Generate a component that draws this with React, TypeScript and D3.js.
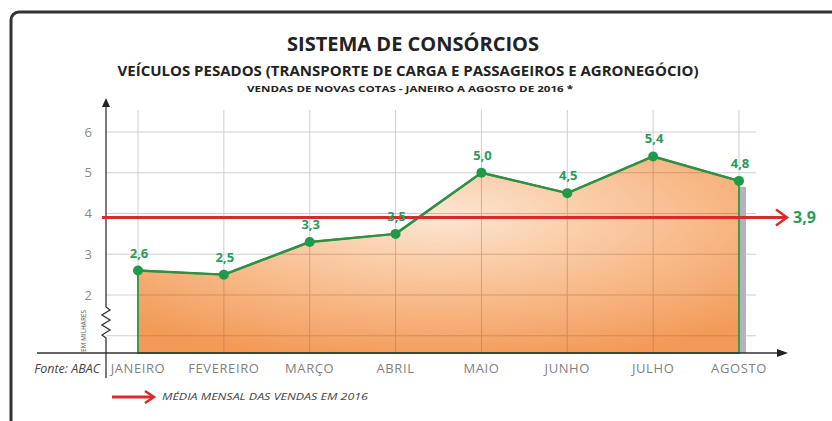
import React from 'react';
import * as d3 from 'd3';

// vendas mensais (em milhares) - consórcios de veículos pesados 2016
const meses = ['JANEIRO', 'FEVEREIRO', 'MARÇO', 'ABRIL', 'MAIO', 'JUNHO', 'JULHO', 'AGOSTO'];
const vendas = [2.6, 2.5, 3.3, 3.5, 5.0, 4.5, 5.4, 4.8];
const media = 3.9;
const yTicks = [2, 3, 4, 5, 6];
const gridExtra = [1];

const fmt = (v: number) => d3.format('.1f')(v).replace('.', ',');

export default function App() {
  const W = 832, H = 421;
  const base = 353; // linha do eixo x

  const x = d3.scalePoint<string>().domain(meses).range([138, 739]);
  const y = d3.scaleLinear().domain([2, 6]).range([295, 132]);

  const dados = meses.map((m, i) => ({ m, v: vendas[i] }));

  const area = d3.area<{ m: string; v: number }>()
    .x(d => x(d.m)!)
    .y0(base)
    .y1(d => y(d.v));
  const areaPath = area(dados)!;
  const linha = d3.line<{ m: string; v: number }>().x(d => x(d.m)!).y(d => y(d.v))(dados)!;

  const ultimo = dados[dados.length - 1];
  const yMedia = y(media);
  const gridTicks = [...gridExtra, ...yTicks];

  // zigue-zague de quebra do eixo y
  const zig = d3.line()([[106, 303], [106, 307], [110, 310], [102, 315], [110, 320], [102, 325], [110, 330], [102, 335], [106, 338], [106, 343]])!;

  const grid = (stroke: string, w: number) => (
    <g stroke={stroke} strokeWidth={w}>
      {gridTicks.map(t => (
        <line key={'h' + t} x1={106} x2={756} y1={y(t)} y2={y(t)} />
      ))}
      {meses.map(m => (
        <line key={'v' + m} x1={x(m)} x2={x(m)} y1={110} y2={base} />
      ))}
    </g>
  );

  return (
    <svg width={W} height={H} style={{ position: 'absolute', left: 0, top: 0, background: '#fff' }}
      fontFamily="'Open Sans', sans-serif">
      <defs>
        <radialGradient id="laranja" cx="0.5" cy="0.3" r="0.75">
          <stop offset="0" stopColor="#fde6d2" />
          <stop offset="0.55" stopColor="#f8bd8e" />
          <stop offset="1" stopColor="#f39a58" />
        </radialGradient>
        <clipPath id="recorte">
          <path d={areaPath} />
        </clipPath>
      </defs>

      {/* moldura */}
      <rect x={11} y={12} width={840} height={430} rx={8} fill="none" stroke="#333" strokeWidth={3} />

      {/* títulos */}
      <text x={413} y={51} textAnchor="middle" fontWeight="bold" fontSize={20} fill="#222"
        textLength={252} lengthAdjust="spacingAndGlyphs">SISTEMA DE CONSÓRCIOS</text>
      <text x={408} y={76} textAnchor="middle" fontWeight="bold" fontSize={13.5} fill="#222"
        textLength={581} lengthAdjust="spacingAndGlyphs">VEÍCULOS PESADOS (TRANSPORTE DE CARGA E PASSAGEIROS E AGRONEGÓCIO)</text>
      <text x={410} y={92} textAnchor="middle" fontWeight="bold" fontSize={9} fill="#222"
        textLength={326} lengthAdjust="spacingAndGlyphs">VENDAS DE NOVAS COTAS - JANEIRO A AGOSTO DE 2016 *</text>

      {/* grade */}
      {grid('#cfcfcf', 1)}

      {/* sombra cinza */}
      <rect x={x(ultimo.m)!} y={y(ultimo.v) + 6} width={7} height={base - y(ultimo.v) - 6} fill="#b3b3bb" />

      {/* área */}
      <path d={areaPath} fill="url(#laranja)" />
      <g clipPath="url(#recorte)" opacity={0.35}>{grid('#8a5a3a', 1)}</g>
      <path d={areaPath} fill="none" stroke="#3c9a4a" strokeWidth={2} strokeLinejoin="round" />
      <path d={linha} fill="none" stroke="#2f8f44" strokeWidth={2.5} strokeLinejoin="round" />

      {/* eixos */}
      <g stroke="#333" strokeWidth={1.3} fill="none">
        <line x1={106} x2={106} y1={104} y2={303} />
        <path d={zig} />
        <line x1={106} x2={106} y1={343} y2={378} />
        <line x1={37} x2={778} y1={base} y2={base} />
      </g>
      <path d="M106,98 L102,107 L110,107 Z" fill="#222" />
      <path d={`M788,${base} L777,${base - 4} L777,${base + 4} Z`} fill="#222" />

      {/* rótulos eixo y */}
      {yTicks.map(t => (
        <text key={t} x={92} y={y(t)} dy="0.35em" textAnchor="end" fontSize={13} fill="#8a8a8a">{t}</text>
      ))}
      <text transform="translate(86,331) rotate(-90)" textAnchor="middle" fontSize={7.5} fill="#555"
        textLength={42} lengthAdjust="spacingAndGlyphs">EM MILHARES</text>

      {/* rótulos eixo x */}
      {meses.map(m => (
        <text key={m} x={x(m)} y={373} textAnchor="middle" fontSize={13} letterSpacing={0.6} fill="#7f7f7f">{m}</text>
      ))}
      <text x={100} y={373} textAnchor="end" fontSize={12.5} fontStyle="italic" fill="#444">Fonte: ABAC</text>

      {/* linha da média */}
      <line x1={102} x2={786} y1={yMedia} y2={yMedia} stroke="#d62b2b" strokeWidth={3} />
      <path d={`M776,${yMedia - 8} L787,${yMedia} L776,${yMedia + 8}`} fill="none" stroke="#d62b2b" strokeWidth={2.5} />
      <text x={793} y={yMedia} dy="0.35em" fontSize={16} fontWeight="bold" fill="#2a9a58">{fmt(media)}</text>

      {/* pontos e valores */}
      {dados.map(d => (
        <g key={d.m}>
          <circle cx={x(d.m)} cy={y(d.v)} r={5} fill="#1e9a48" />
          <text x={x(d.m)! + 1} y={y(d.v) - 13} textAnchor="middle" fontSize={13} fontWeight="bold" fill="#2a9a58">{fmt(d.v)}</text>
        </g>
      ))}

      {/* legenda */}
      <line x1={112} x2={152} y1={397} y2={397} stroke="#d62b2b" strokeWidth={3} />
      <path d="M145,391 L154,397 L145,403" fill="none" stroke="#d62b2b" strokeWidth={2.5} />
      <text x={162} y={400} fontSize={9.5} fontStyle="italic" fill="#444"
        textLength={206} lengthAdjust="spacingAndGlyphs">MÉDIA MENSAL DAS VENDAS EM 2016</text>
    </svg>
  );
}
